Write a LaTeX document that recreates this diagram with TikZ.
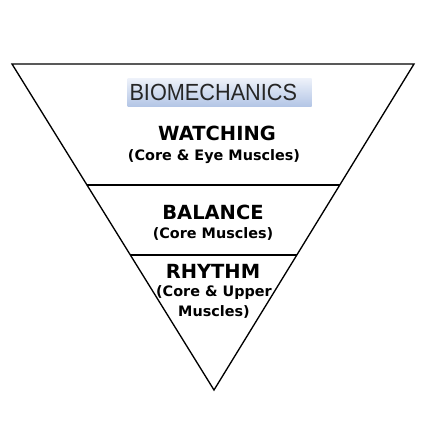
\documentclass[tikz,border=0pt]{standalone}
\usepackage{fontspec}
\setmainfont{DejaVu Sans}
\newfontfamily\titlefont{Liberation Sans}
\usetikzlibrary{calc}
\definecolor{titletop}{HTML}{EEF2FA}
\definecolor{titlebot}{HTML}{B4C6E6}

\begin{document}
\begin{tikzpicture}[x=0.75pt,y=-0.75pt]
        \newcommand{\pyrtopy}{64}
        \newcommand{\pyrleftx}{12}
        \newcommand{\pyrrightx}{414}
        \newcommand{\pyrapexx}{214}
        \newcommand{\pyrapexy}{390}
        \newcommand{\pyrlineay}{185}
        \newcommand{\pyrlineby}{255}
        \newcommand{\pyrheadfont}{\bfseries\fontsize{14.6}{14.6}\selectfont}
        \newcommand{\pyrsubfont}{\bfseries\fontsize{10.8}{10.8}\selectfont}
        \useasboundingbox (0,0) rectangle (425,425);
        \coordinate (tl) at (\pyrleftx,\pyrtopy);
        \coordinate (tr) at (\pyrrightx,\pyrtopy);
        \coordinate (apex) at (\pyrapexx,\pyrapexy);
        \draw[line width=1pt] (tl) -- (tr) -- (apex) -- cycle;
        \draw[line width=1pt] ($(tl)!{(\pyrlineay-\pyrtopy)/(\pyrapexy-\pyrtopy)}!(apex)$) -- ($(tr)!{(\pyrlineay-\pyrtopy)/(\pyrapexy-\pyrtopy)}!(apex)$);
        \draw[line width=1pt] ($(tl)!{(\pyrlineby-\pyrtopy)/(\pyrapexy-\pyrtopy)}!(apex)$) -- ($(tr)!{(\pyrlineby-\pyrtopy)/(\pyrapexy-\pyrtopy)}!(apex)$);
        \node[top color=titletop,bottom color=titlebot,text width=135pt,align=left,minimum height=21pt,inner xsep=1.5pt,inner ysep=0pt,text=black!85,font=\titlefont\fontsize{17.5}{17.5}\selectfont] (title) at (219.5,92) {\scalebox{0.93}[1]{BIOMECHANICS}};
        \node[font=\pyrheadfont] (watch) at (217,133) {WATCHING};
        \node[font=\pyrsubfont] (watchsub) at (214,157) {(Core \& Eye Muscles)};
        \node[font=\pyrheadfont] (bal) at (213,212) {BALANCE};
        \node[font=\pyrsubfont] (balsub) at (213,234) {(Core Muscles)};
        \node[font=\pyrheadfont] (rhy) at (213,271) {RHYTHM};
        \node[font=\pyrsubfont] (rhysub) at (214,293) {(Core \& Upper};
        \node[font=\pyrsubfont] (rhysubb) at (214,312) {Muscles)};
    \end{tikzpicture}
\end{document}
